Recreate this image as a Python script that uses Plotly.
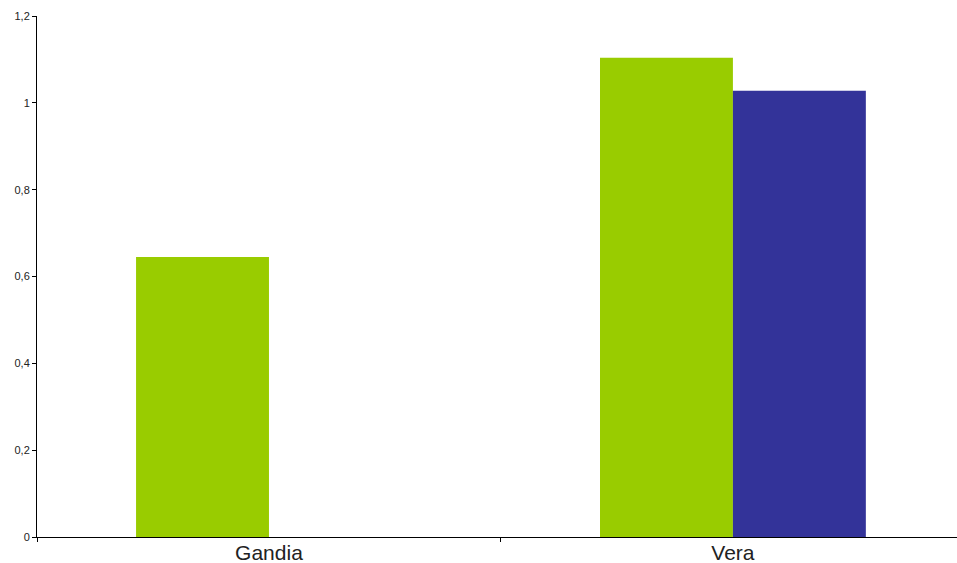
import plotly.graph_objects as go

categories = ["Gandia", "Vera"]
serie1 = [0.645, 1.104]
serie2 = [None, 1.028]
y_ticks = [0, 0.2, 0.4, 0.6, 0.8, 1.0, 1.2]

fig = go.Figure()
fig.add_trace(go.Bar(x=categories, y=serie1, name="Serie 1", marker=dict(color="#99CC00", line=dict(width=0))))
fig.add_trace(go.Bar(x=categories, y=serie2, name="Serie 2", marker=dict(color="#333399", line=dict(width=0))))

fig.update_layout(
    width=957, height=563,
    margin=dict(l=37, r=0, t=16, b=26, autoexpand=False),
    barmode="group", bargap=0.427, bargroupgap=0,
    plot_bgcolor="white", paper_bgcolor="white",
    showlegend=False,
    separators=",.",
    font=dict(family="Liberation Sans, Arial, sans-serif", color="#222"),
)
fig.update_xaxes(
    range=[-0.5, 1.483], showline=True, linecolor="black", linewidth=1,
    ticks="outside", tickson="boundaries", ticklen=4, tickcolor="black",
    tickfont=dict(size=21, color="#222"), showgrid=False, zeroline=False,
    automargin=False, ticklabelstandoff=-3,
)
fig.update_yaxes(
    range=[0, 1.2], tickvals=y_ticks, showline=True, linecolor="black", linewidth=1,
    ticks="outside", ticklen=4, tickcolor="black", tickfont=dict(size=11, color="#222"),
    showgrid=False, zeroline=False, automargin=False,
)

post = (
    "document.body.style.margin='0';"
    "document.body.style.overflow='hidden';"
    "var gd=document.getElementById('{plot_id}');"
    "Plotly.relayout(gd,{width:957,height:563});"
)
fig.write_html("out.html", config={"responsive": False, "displayModeBar": False}, post_script=post)
